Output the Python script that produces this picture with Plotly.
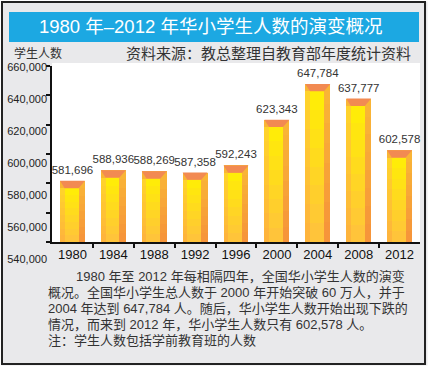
import plotly.graph_objects as go

# ---- data ----
years = ["1980", "1984", "1988", "1992", "1996", "2000", "2004", "2008", "2012"]
students = [581696, 588936, 588269, 587358, 592243, 623343, 647784, 637777, 602578]
y_ticks = [540000, 560000, 580000, 600000, 620000, 640000, 660000]

title_text = "1980 年–2012 年华小学生人数的演变概况"
y_title = "学生人数"
source_text = "资料来源：教总整理自教育部年度统计资料"
para_lines = [
    "1980 年至 2012 年每相隔四年，全国华小学生人数的演变",
    "概况。全国华小学生总人数于 2000 年开始突破 60 万人，并于",
    "2004 年达到 647,784 人。随后，华小学生人数开始出现下跌的",
    "情况，而来到 2012 年，华小学生人数只有 602,578 人。",
]
note_text = "注：学生人数包括学前教育班的人数"

# ---- layout geometry (pixels) ----
FW, FH = 429, 367
L, R, T, B = 52, 9, 66, 105
PW, PH = FW - L - R, FH - T - B
def px(x):
    return (x - L) / PW
def py(y):
    return (FH - B - y) / PH

AX_BOTTOM = 242
y_dom0 = (FH - B - AX_BOTTOM) / PH

SANS = "Liberation Sans, Arial, Noto Sans CJK SC, sans-serif"
CJK = "Liberation Sans, Noto Sans CJK SC, sans-serif"

GRAY = "#e9e9eb"
CAP = 5000
NB = 8
xs = list(range(len(years)))
bounds = [i + 0.5 for i in xs[:-1]]
BW = 0.61
CORE_L, CORE_R = -0.19, 0.15
lo = y_ticks[0]

def hex2rgb(h):
    h = h.lstrip("#")
    return [int(h[i:i + 2], 16) for i in (0, 2, 4)]
def mix(c1, c2, t):
    a, b = hex2rgb(c1), hex2rgb(c2)
    return "rgb(%d,%d,%d)" % tuple(round(a[i] + (b[i] - a[i]) * t) for i in range(3))

fig = go.Figure()
layers = [
    ("#f6953a", "#f9b436", BW, -BW / 2, True),
    ("#feb43c", "#ffd22c", CORE_R + BW / 2, -BW / 2, False),
    ("#ffc43a", "#ffec08", CORE_R - CORE_L, CORE_L, False),
]
for c_bot, c_top, w, off, full in layers:
    tops = [v if full else v - CAP for v in students]
    for k in range(NB):
        base = [lo + (t - lo) * k / NB for t in tops]
        h = [(t - lo) / NB for t in tops]
        fig.add_trace(go.Bar(x=xs, y=h, base=base, width=w, offset=off,
                             marker=dict(color=mix(c_bot, c_top, k / (NB - 1)), line=dict(width=0)),
                             hoverinfo="skip", showlegend=False))
cx, cy = [], []
for i, v in zip(xs, students):
    cx += [i - BW / 2, i + BW / 2, i + CORE_R, i + CORE_L, i - BW / 2, None]
    cy += [v, v, v - CAP, v - CAP, v, None]
fig.add_trace(go.Scatter(x=cx, y=cy, mode="lines", fill="toself", fillcolor="#f28a52",
                         line=dict(width=0, color="#f28a52"), hoverinfo="skip", showlegend=False))
fig.add_trace(go.Scatter(x=xs, y=students, mode="markers+text", text=[f"{v:,}" for v in students],
                         textposition="top center", marker=dict(size=5, opacity=0),
                         textfont=dict(family=SANS, size=11.5, color="#333333"),
                         hoverinfo="skip", showlegend=False, cliponaxis=False))
fig.add_trace(go.Scatter(x=bounds, y=[y_ticks[0]] * len(bounds), xaxis="x2", mode="markers",
                         marker=dict(opacity=0), hoverinfo="skip", showlegend=False))
fig.add_trace(go.Scatter(x=[0] * len(y_ticks), y=y_ticks, yaxis="y2", mode="markers",
                         marker=dict(opacity=0), hoverinfo="skip", showlegend=False))

lab_top_px, lab_bot_px = 67, 259
per_px = (y_ticks[-1] - y_ticks[0]) / (lab_bot_px - lab_top_px)
y2_lo = y_ticks[0] - (FH - B - lab_bot_px) * per_px
y2_hi = y_ticks[-1] + (lab_top_px - T) * per_px

xr = [-0.5, len(years) - 0.5]
fig.update_layout(
    width=FW, height=FH,
    margin=dict(l=L, r=R, t=T, b=B, pad=0, autoexpand=False),
    paper_bgcolor=GRAY, plot_bgcolor="rgba(0,0,0,0)",
    barmode="overlay", bargap=0,
    xaxis=dict(range=xr, tickmode="array", tickvals=xs, ticktext=years, automargin=False,
               ticks="", showline=True, linecolor="#111111", linewidth=1.5,
               showgrid=False, zeroline=False, anchor="y",
               tickfont=dict(family=SANS, size=13, color="#111111")),
    xaxis2=dict(range=xr, overlaying="x", anchor="y", side="bottom", automargin=False,
                tickmode="array", tickvals=bounds, ticks="outside", ticklen=5, tickwidth=1.5,
                tickcolor="#111111", showticklabels=False, showline=False, showgrid=False,
                zeroline=False),
    yaxis=dict(domain=[y_dom0, 1], range=[y_ticks[0], y_ticks[-1]], tickmode="array",
               tickvals=y_ticks, ticks="outside", ticklen=4, tickwidth=2, tickcolor="#111111",
               showticklabels=False, showline=True, linecolor="#111111", linewidth=2,
               showgrid=False, zeroline=False, automargin=False),
    yaxis2=dict(domain=[0, 1], range=[y2_lo, y2_hi], anchor="free", position=0, side="left",
                tickmode="array", tickvals=y_ticks, tickformat=",", ticks="", automargin=False,
                showline=False, showgrid=False, zeroline=False, ticklabelstandoff=5,
                tickfont=dict(family=SANS, size=11, color="#222222")),
    showlegend=False,
)

shapes = [
    dict(type="rect", xref="paper", yref="paper", x0=0, x1=1, y0=y_dom0, y1=py(63),
         fillcolor="white", line=dict(width=0), layer="below"),
    dict(type="rect", xref="paper", yref="paper", x0=px(9), x1=px(419), y0=py(42), y1=py(12),
         fillcolor="#1ca8e2", line=dict(width=0), layer="below"),
    dict(type="rect", xref="paper", yref="paper", x0=px(-1), x1=px(FW + 1), y0=py(FH + 1), y1=py(-1),
         fillcolor="rgba(0,0,0,0)", line=dict(width=5, color="white"), layer="above"),
    dict(type="rect", xref="paper", yref="paper", x0=px(2), x1=px(425), y0=py(364), y1=py(2),
         fillcolor="rgba(0,0,0,0)", line=dict(width=2, color="#222222"), layer="above"),
]
fig.update_layout(shapes=shapes)

ann = [
    dict(text=title_text, x=px(210), y=py(27), xanchor="center", yanchor="middle",
         font=dict(family=CJK, size=18.5, color="white")),
    dict(text=y_title, x=px(12), y=py(54), xanchor="left", yanchor="middle",
         font=dict(family=CJK, size=12, color="#333333")),
    dict(text=source_text, x=px(413), y=py(54), xanchor="right", yanchor="middle",
         font=dict(family=CJK, size=15, color="#333333")),
]
line_y = [276, 292, 308, 324]
line_x = [74, 46, 46, 46]
for t, yy, xx in zip(para_lines, line_y, line_x):
    ann.append(dict(text=t, x=px(xx), y=py(yy), xanchor="left", yanchor="middle",
                    font=dict(family=CJK, size=13, color="#333333")))
ann.append(dict(text=note_text, x=px(46), y=py(340), xanchor="left", yanchor="middle",
                font=dict(family=CJK, size=13, color="#333333")))
for a in ann:
    a.update(xref="paper", yref="paper", showarrow=False)
fig.update_layout(annotations=ann)

fig.write_html("out.html", config={"displayModeBar": False},
               post_script="document.body.style.margin='0';")
